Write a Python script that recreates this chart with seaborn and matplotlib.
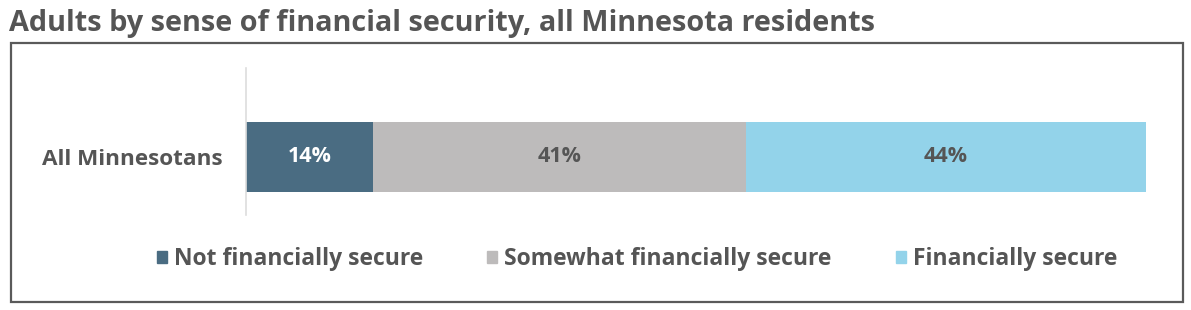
import matplotlib
matplotlib.use("Agg")
import matplotlib.pyplot as plt
import matplotlib.patches as mpatches
import seaborn as sns
import pandas as pd
import numpy as np

categories = ["All Minnesotans"]
series_names = ["Not financially secure", "Somewhat financially secure", "Financially secure"]
values = [14, 41, 44]
colors = ["#4A6C82", "#BDBBBB", "#93D3EA"]
label_colors = ["#FFFFFF", "#555555", "#555555"]
title = "Adults by sense of financial security, all Minnesota residents"

sns.set_theme(style="white")
plt.rcParams["font.family"] = ["Open Sans", "DejaVu Sans"]

W, H = 1191, 310
fig = plt.figure(figsize=(W / 100, H / 100), dpi=100)

def fx(px):
    return px / W

def fy(py):
    return 1 - py / H

ax = fig.add_axes([fx(246), fy(215), fx(1155) - fx(246), (215 - 68) / H])

cum = np.cumsum(values)
bar_h = 70 / 147
for i in reversed(range(len(values))):
    df = pd.DataFrame({"cat": categories, "val": [cum[i]]})
    sns.barplot(data=df, x="val", y="cat", orient="h", color=colors[i],
                width=bar_h, saturation=1, ax=ax, linewidth=0)

starts = cum - np.array(values)
for i, v in enumerate(values):
    ax.text(starts[i] + v / 2, 0, f"{v}%", ha="center", va="center",
            color=label_colors[i], fontsize=15.5, fontweight="bold")

ax.set_xlim(0, 100)
ax.set_ylim(1 - 0.605, -0.605)
ax.set_xlabel("")
ax.set_ylabel("")
ax.set_xticks([])
ax.set_yticks([0])
ax.set_yticklabels(categories, fontsize=16.2, fontweight="bold", color="#555555")
ax.tick_params(axis="y", length=0, pad=17)
for s in ["top", "right", "bottom"]:
    ax.spines[s].set_visible(False)
ax.spines["left"].set_color("#DDDDDD")
ax.spines["left"].set_linewidth(1.2)
ax.patch.set_alpha(0)

# Title
fig.text(fx(9), fy(24), title, ha="left", va="center", fontsize=20.8,
         fontweight="bold", color="#555555")

# Border box
rect = mpatches.Rectangle((fx(11), fy(302)), fx(1183) - fx(11), fy(43) - fy(302),
                          transform=fig.transFigure, fill=False,
                          edgecolor="#5A5A5A", linewidth=1.6)
fig.patches.append(rect)

handles = [mpatches.Patch(color=c, label=n) for c, n in zip(colors, series_names)]
leg = fig.legend(handles=handles, loc="center", bbox_to_anchor=(fx(637), fy(259)),
                 ncol=3, frameon=False, fontsize=16.5, handlelength=0.45,
                 handleheight=0.45, handletextpad=0.3, columnspacing=2.8)
for t in leg.get_texts():
    t.set_color("#555555")
    t.set_fontweight("bold")

fig.savefig("out.png", dpi=100)
